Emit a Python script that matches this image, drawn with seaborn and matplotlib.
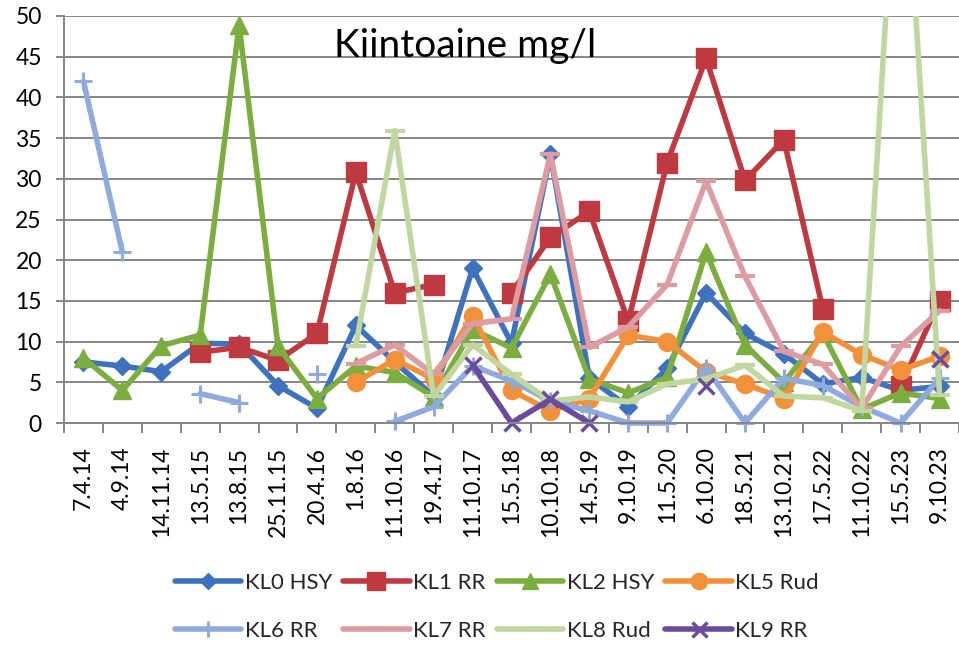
import numpy as np
import pandas as pd
import matplotlib
matplotlib.use("Agg")
import matplotlib.pyplot as plt
from matplotlib.lines import Line2D
from matplotlib.ticker import FixedLocator
import seaborn as sns

nan = np.nan

categories = ['7.4.14', '4.9.14', '14.11.14', '13.5.15', '13.8.15', '25.11.15', '20.4.16',
              '1.8.16', '11.10.16', '19.4.17', '11.10.17', '15.5.18', '10.10.18', '14.5.19',
              '9.10.19', '11.5.20', '6.10.20', '18.5.21', '13.10.21', '17.5.22', '11.10.22',
              '15.5.23', '9.10.23']

kl0_hsy = [7.5, 7, 6.3, 9.8, 9.7, 4.6, 1.8, 12, 7.5, 3.3, 19, 9.8, 33, 5.5, 2, 6.7, 16, 11,
           8.5, 4.8, 5.6, 4, 4.5]
kl1_rr = [nan, nan, nan, 8.7, 9.3, 7.7, 11, 30.8, 16, 17, nan, 16, 22.8, 26, 12.5, 32, 44.8,
          29.8, 34.8, 14, nan, 4.5, 15]
kl2_hsy = [8, 4, 9.5, 10.8, 48.9, 9.4, 3, 7, 6.2, 3.2, 11.5, 9.2, 18.3, 5.4, 3.7, 5.6, 21, 9.6,
           5, 11, 1.7, 3.7, 3]
kl5_rud = [nan, nan, nan, nan, nan, nan, nan, 5, 7.8, 5.4, 13.2, 4, 1.5, 3, 10.8, 10, 6.3, 4.8,
           3, 11.2, 8.4, 6.5, 8.2]
kl6_rr = [42, 21, nan, 3.6, 2.5, nan, 6, nan, 0.2, 2, 7, 5.2, 2.7, 1.5, 0, 0, 6.8, 0, 5.5, 4.6,
          2, 0, 5.5]
kl7_rr = [nan, nan, nan, nan, nan, nan, nan, 7.3, 9.6, 6, 12.2, 12.8, 33, 9.3, 11.8, 17, 29.7,
          18, 8.8, 7.2, 1.8, 9.4, 13.8]
kl8_rud = [nan, nan, nan, nan, nan, nan, nan, 9.5, 35.9, 3.3, 9.6, 6, 2.7, 3.2, 2.6, 4.8, 5.4,
           7.1, 3.3, 3.1, 1.5, 80, 3.5]
kl9_rr = [nan, nan, nan, nan, nan, nan, nan, nan, nan, nan, 7.1, 0, 2.9, 0, nan, nan, 4.6, nan,
          nan, nan, nan, nan, 7.9]

series_names = ['KL0 HSY', 'KL1 RR', 'KL2 HSY', 'KL5 Rud', 'KL6 RR', 'KL7 RR', 'KL8 Rud', 'KL9 RR']
series_values = [kl0_hsy, kl1_rr, kl2_hsy, kl5_rud, kl6_rr, kl7_rr, kl8_rud, kl9_rr]

colors = ['#3F72BE', '#BF3A40', '#7BAE3E', '#F3913A', '#8FAADC', '#DC9CA2', '#C0D8A0', '#6A4C9C']
markers = ['D', 's', '^', 'o', '+', '_', '_', 'x']
msizes = [9.5, 14, 13.5, 13, 13, 14, 14, 12]
mews = [1, 1, 1, 1, 2.2, 3, 3, 2.5]

sns.set_theme(style="white")
plt.rcParams['font.family'] = ['Lato', 'DejaVu Sans']

fig = plt.figure(figsize=(9.59, 6.47), dpi=100)
ax = fig.add_axes([64 / 959, 1 - 423 / 647, 895 / 959, 407 / 647])

xpos = np.arange(len(categories))
for name, vals, c, m, ms, mew in zip(series_names, series_values, colors, markers, msizes, mews):
    v = np.array(vals, dtype=float)
    seg = np.cumsum(np.isnan(v))
    df = pd.DataFrame({'x': xpos, 'y': v, 'seg': seg}).dropna()
    n_before = len(ax.lines)
    sns.lineplot(data=df, x='x', y='y', units='seg', estimator=None, sort=False, ax=ax,
                 color=c, linewidth=4.0, marker=m, markersize=ms, markeredgecolor=c,
                 markerfacecolor=c, markeredgewidth=mew, legend=False)
    for ln in ax.lines[n_before:]:
        ln.set_solid_joinstyle('round')
        ln.set_solid_capstyle('round')
        if name != 'KL8 Rud':
            ln.set_clip_on(False)

grid_c = '#868686'
ax.set_xlim(-0.5, len(categories) - 0.5)
ax.set_ylim(0, 50)
ax.set_yticks(range(0, 51, 5))
ax.yaxis.grid(True, color=grid_c, linewidth=1.4)
ax.xaxis.grid(False)
ax.set_axisbelow(True)
for s in ['top', 'right']:
    ax.spines[s].set_visible(False)
for s in ['left', 'bottom']:
    ax.spines[s].set_color(grid_c)
    ax.spines[s].set_linewidth(1.4)

ax.set_xticks(xpos)
ax.set_xticklabels(categories, rotation=90, ha='center', va='top')
ax.xaxis.set_minor_locator(FixedLocator(np.arange(-0.5, len(categories), 1.0)))
ax.tick_params(axis='x', which='major', length=0, pad=17, labelsize=16.5, labelcolor='black')
ax.tick_params(axis='x', which='minor', bottom=True, length=7, width=1.4, color=grid_c,
               direction='out')
ax.tick_params(axis='y', which='major', left=True, length=6, width=1.4, color=grid_c,
               direction='out', pad=10, labelsize=16.5, labelcolor='black')
ax.set_xlabel('')
ax.set_ylabel('')

ax.text(0.448, 0.927, 'Kiintoaine mg/l', transform=ax.transAxes, ha='center', va='center',
        fontsize=28, color='black')

handles = [Line2D([0], [0], color=c, linewidth=4.0, marker=m, markersize=ms * 0.9,
                  markeredgecolor=c, markerfacecolor=c, markeredgewidth=mew)
           for c, m, ms, mew in zip(colors, markers, msizes, mews)]
order = [0, 4, 1, 5, 2, 6, 3, 7]
fig.legend([handles[i] for i in order], [series_names[i] for i in order],
           loc='center', bbox_to_anchor=(0.518, 0.062), ncol=4,
           frameon=False, fontsize=16, handlelength=3.0, handletextpad=0.15,
           columnspacing=0.5, labelspacing=1.25)

fig.savefig('out.png', dpi=100)
